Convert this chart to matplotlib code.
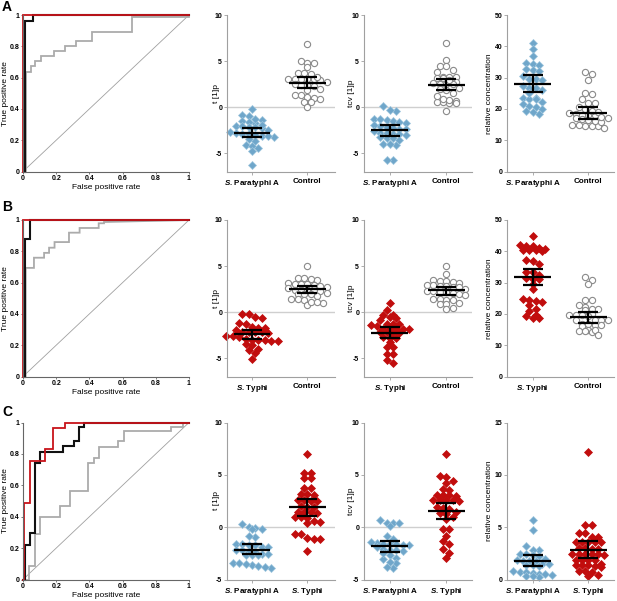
import numpy as np
import matplotlib
matplotlib.use('Agg')
import matplotlib.pyplot as plt

FAM = ['Liberation Sans', 'DejaVu Sans']
plt.rcParams['font.family'] = FAM
plt.rcParams['font.weight'] = 'bold'
plt.rcParams['mathtext.fontset'] = 'custom'
plt.rcParams['mathtext.it'] = 'Liberation Sans:italic:bold'
plt.rcParams['mathtext.rm'] = 'Liberation Sans:bold'
plt.rcParams['mathtext.bf'] = 'Liberation Sans:bold'

# ---------------- ROC data ----------------
rocA_red_fpr = [0, 0, 1]
rocA_red_tpr = [0, 1, 1]
rocA_blk_fpr = [0.012, 0.012, 0.062, 0.062, 1]
rocA_blk_tpr = [0, 0.96, 0.96, 1, 1]
rocA_gry_fpr = [0.016, 0.016, 0.046, 0.046, 0.074, 0.074, 0.11, 0.11, 0.187, 0.187, 0.253, 0.253,
                0.32, 0.32, 0.418, 0.418, 0.655, 0.655, 1, 1]
rocA_gry_tpr = [0, 0.638, 0.638, 0.674, 0.674, 0.706, 0.706, 0.738, 0.738, 0.77, 0.77, 0.804,
                0.804, 0.832, 0.832, 0.894, 0.894, 0.985, 0.985, 1]

rocB_red_fpr = [0, 0, 1]
rocB_red_tpr = [0, 1, 1]
rocB_blk_fpr = [0.012, 0.012, 0.044, 0.044, 1]
rocB_blk_tpr = [0, 0.88, 0.88, 1, 1]
rocB_gry_fpr = [0.016, 0.016, 0.066, 0.066, 0.127, 0.127, 0.157, 0.157, 0.19, 0.19, 0.277, 0.277,
                0.341, 0.341, 0.456, 0.456, 0.488, 0.488, 1]
rocB_gry_tpr = [0, 0.694, 0.694, 0.759, 0.759, 0.79, 0.79, 0.823, 0.823, 0.859, 0.859, 0.919,
                0.919, 0.949, 0.949, 0.979, 0.979, 0.987, 1]

rocC_red_fpr = [0, 0.004, 0.004, 0.04, 0.04, 0.13, 0.13, 0.18, 0.18, 0.25, 0.25, 1]
rocC_red_tpr = [0, 0, 0.487, 0.487, 0.752, 0.752, 0.829, 0.829, 0.966, 0.966, 1, 1]
rocC_blk_fpr = [0, 0.01, 0.01, 0.04, 0.04, 0.074, 0.074, 0.1, 0.1, 0.24, 0.24, 0.305, 0.305,
                0.337, 0.337, 0.365, 0.365, 1]
rocC_blk_tpr = [0, 0, 0.22, 0.22, 0.293, 0.293, 0.741, 0.741, 0.812, 0.812, 0.848, 0.848, 0.88,
                0.88, 0.972, 0.972, 1, 1]
rocC_gry_fpr = [0, 0.036, 0.036, 0.07, 0.07, 0.1, 0.1, 0.225, 0.225, 0.281, 0.281, 0.39, 0.39,
                0.428, 0.428, 0.456, 0.456, 0.572, 0.572, 0.606, 0.606, 0.894, 0.894, 0.964, 0.964, 1]
rocC_gry_tpr = [0, 0, 0.085, 0.085, 0.288, 0.288, 0.395, 0.395, 0.466, 0.466, 0.566, 0.566, 0.741,
                0.741, 0.774, 0.774, 0.844, 0.844, 0.882, 0.882, 0.947, 0.947, 0.972, 0.972, 1, 1]

roc_ticks = [0, 0.2, 0.4, 0.6, 0.8, 1]
roc_ticklabels = ['0', '0.2', '0.4', '0.6', '0.8', '1']

# ---------------- scatter data ----------------
A_t_para = [-0.2, -1.0, -0.9, -1.5, -1.7, -1.4, -1.6, -1.3, -2.3, -2.2, -2.1, -2.2, -2.1, -2.8, -2.9,
            -2.7, -2.9, -3.1, -3.0, -3.2, -3.1, -3.7, -3.5, -4.1, -4.2, -4.4, -4.8, -6.3, -2.5, -1.9]
A_t_ctrl = [6.8, 5.0, 4.8, 4.4, 4.8, 3.7, 3.6, 3.7, 3.1, 3.0, 3.0, 3.0, 2.9, 3.1, 2.5, 2.4, 2.3, 2.4,
            1.3, 1.1, 1.0, 0.9, 1.3, 0.6, 0.5, 0.0, 2.0, 1.9, 3.3, 2.7]
A_tcv_para = [0.1, -0.4, -0.3, -1.7, -1.4, -1.3, -1.5, -1.3, -1.6, -2.4, -2.2, -2.1, -2.3, -2.4, -2.8,
              -2.9, -2.8, -2.9, -3.4, -3.3, -3.4, -4.0, -4.1, -4.0, -5.8, -5.7, -1.9, -2.6, -3.0, -3.6]
A_tcv_ctrl = [7.0, 5.1, 4.5, 4.5, 3.8, 4.0, 3.3, 3.3, 3.3, 3.2, 3.2, 2.5, 2.7, 2.5, 2.6, 2.5, 2.1, 2.0,
              0.7, 0.55, 0.4, 0.55, 0.4, 0.8, 0.9, 1.2, -0.4, 1.8, 1.5, 2.9]
A_rel_para = [41.2, 39.0, 36.8, 34.4, 34.0, 34.7, 32.4, 32.8, 32.2, 29.6, 29.4, 29.2, 27.3, 26.6, 26.0,
              26.8, 23.4, 23.3, 23.5, 23.2, 22.3, 21.5, 21.0, 20.6, 19.4, 20.1, 18.4, 19.0, 30.5, 25.0]
A_rel_ctrl = [31.7, 31.0, 29.2, 25.1, 24.8, 23.2, 21.8, 21.8, 20.5, 20.1, 18.1, 18.0, 18.5, 18.2, 18.6,
              19.1, 17.1, 16.9, 17.0, 15.0, 14.6, 13.8, 14.4, 14.6, 15.0, 16.0, 15.8, 17.4, 16.4, 19.3]

B_t_typh = [-0.2, -0.2, -0.65, -0.55, -1.2, -1.35, -1.65, -1.7, -1.7, -2.0, -2.15, -2.2, -2.25, -2.2,
            -2.15, -2.6, -2.7, -2.6, -3.1, -3.05, -3.1, -3.05, -3.0, -3.6, -3.5, -4.1, -4.0, -4.5, -5.05, -2.9]
B_t_ctrl = [4.95, 3.75, 3.55, 3.5, 3.7, 2.9, 3.1, 3.2, 3.1, 3.1, 2.7, 2.3, 2.35, 2.35, 2.35, 2.3, 2.0,
            2.0, 2.0, 2.1, 1.7, 1.4, 1.4, 1.3, 0.95, 0.8, 1.1, 1.1, 2.6, 2.8]
B_tcv_typh = [1.0, 0.2, -0.35, -0.3, -0.6, -0.55, -0.9, -1.25, -1.25, -1.55, -1.45, -1.35, -1.8, -1.85,
              -1.8, -1.8, -1.8, -2.2, -2.25, -2.15, -2.25, -2.7, -2.8, -2.8, -3.25, -3.8, -3.8, -4.55,
              -4.55, -5.2, -5.55]
B_tcv_ctrl = [5.05, 4.1, 3.4, 3.3, 3.2, 3.4, 3.5, 2.75, 2.9, 2.8, 2.9, 2.7, 2.8, 2.15, 2.25, 2.15, 2.25,
              2.05, 1.45, 1.35, 1.45, 1.35, 0.9, 1.0, 0.9, 0.35, 0.45, 2.5, 2.0, 1.9]
B_rel_typh = [44.9, 41.7, 41.1, 41.7, 42.0, 40.4, 40.3, 40.1, 40.4, 40.7, 36.9, 37.2, 36.1, 33.4, 33.4,
              32.4, 31.6, 31.2, 31.0, 29.7, 28.1, 24.9, 24.0, 24.4, 23.8, 22.8, 21.7, 20.9, 19.3, 18.7,
              19.6, 18.8]
B_rel_ctrl = [31.8, 30.8, 29.5, 24.6, 24.6, 22.8, 21.7, 21.7, 22.2, 21.2, 19.6, 19.6, 20.0, 19.6, 19.2,
              18.2, 18.2, 18.2, 17.9, 16.7, 16.1, 16.4, 16.4, 16.7, 15.0, 14.5, 14.2, 14.5, 15.0, 13.1]

C_t_para = [0.3, -0.05, 0.0, -0.15, -0.2, -0.95, -0.8, -1.65, -1.75, -1.85, -1.85, -1.75, -1.65, -2.15,
            -2.4, -2.25, -2.15, -2.7, -2.6, -2.7, -2.7, -2.6, -3.45, -3.6, -3.45, -3.5, -3.75, -3.9, -3.85]
C_t_typh = [7.0, 5.2, 5.2, 4.7, 4.7, 3.75, 3.75, 3.1, 3.2, 3.2, 2.55, 2.5, 2.55, 2.5, 1.97, 2.0, 1.97,
            1.45, 1.45, 1.35, 1.45, 0.95, 0.9, 0.95, 0.6, 0.4, 0.5, -0.7, -0.65, -1.1, -1.1, -1.05, -2.25]
C_tcv_para = [0.4, 0.4, 0.15, 0.4, 0.65, -0.8, -1.1, -1.5, -1.6, -1.6, -1.7, -1.6, -1.4, -1.9, -2.15,
              -2.3, -2.15, -2.05, -2.7, -2.9, -3.0, -3.45, -3.3, -3.9, -3.85, -1.75, -2.5]
C_tcv_typh = [7.0, 4.9, 4.8, 4.2, 4.45, 3.65, 3.55, 3.0, 3.1, 3.1, 3.1, 2.5, 2.55, 2.6, 2.55, 2.55, 1.9,
              1.75, 1.85, 1.45, 1.3, 1.35, 0.95, 0.8, -0.15, -0.15, -0.8, -1.35, -1.65, -2.05, -2.5, -2.95]
C_rel_para = [5.65, 4.7, 3.2, 2.8, 2.85, 2.4, 2.3, 2.2, 2.45, 1.9, 2.0, 1.8, 1.75, 1.8, 1.35, 1.45, 1.25,
              1.45, 1.35, 0.7, 0.6, 0.55, 0.55, 0.7, 0.85, 0.3, 0.2, 0.3, 0.4]
C_rel_typh = [12.2, 5.25, 5.25, 4.45, 4.1, 4.1, 4.45, 3.6, 3.6, 3.6, 3.6, 3.6, 3.05, 3.05, 2.95, 2.95,
              2.4, 2.4, 2.45, 2.3, 2.4, 2.4, 1.9, 1.9, 1.9, 1.9, 1.35, 1.25, 1.2, 1.35, 1.35, 1.5, 0.8,
              0.7, 0.8, 0.4, 0.3]

# mean and 95% CI (mean, low, high)
A_t_stats = [(-2.85, -3.3, -2.25), (2.6, 2.1, 3.3)]
A_tcv_stats = [(-2.5, -3.1, -1.9), (2.45, 1.85, 3.0)]
A_rel_stats = [(28.0, 25.3, 30.7), (18.6, 16.7, 20.5)]
B_t_stats = [(-2.35, -2.9, -1.9), (2.5, 2.1, 2.8)]
B_tcv_stats = [(-2.25, -2.8, -1.6), (2.35, 1.8, 2.75)]
B_rel_stats = [(31.8, 29.2, 34.5), (19.0, 17.1, 20.6)]
C_t_stats = [(-2.15, -2.6, -1.65), (1.9, 1.1, 2.65)]
C_tcv_stats = [(-1.8, -2.4, -1.35), (1.5, 0.75, 2.35)]
C_rel_stats = [(1.75, 1.25, 2.3), (2.8, 2.1, 3.65)]

lab_para = '$S$. Paratyphi A'
lab_typh = '$S$. Typhi'
lab_ctrl = 'Control'

# ---------------- styling ----------------
W, H = 617, 601
fig = plt.figure(figsize=(W / 100, H / 100), dpi=100)
fig.patch.set_facecolor('white')

RED = '#c8141a'
BLUE = '#6fa6ca'
STY = {
    'para': dict(marker='D', ms=3.7, mfc=BLUE, mec='#9fc6de', mew=0.5),
    'typh': dict(marker='D', ms=3.7, mfc='#c10d0d', mec='#c10d0d', mew=0.5),
    'ctrl': dict(marker='o', ms=4.5, mfc='white', mec='#8a8a8a', mew=0.8),
}
FS_TICK = 5.0
FS_LAB = 6.0
FS_CAT = 5.8


def add_axes_px(left, right, top, bottom):
    return fig.add_axes([left / W, 1 - bottom / H, (right - left) / W, (bottom - top) / H])


rows = [(15, 171.5), (220, 376.5), (422.5, 579.5)]
letters = ['A', 'B', 'C']
letter_y = [7, 207, 412]

roc_data = [
    (rocA_gry_fpr, rocA_gry_tpr, rocA_blk_fpr, rocA_blk_tpr, rocA_red_fpr, rocA_red_tpr),
    (rocB_gry_fpr, rocB_gry_tpr, rocB_blk_fpr, rocB_blk_tpr, rocB_red_fpr, rocB_red_tpr),
    (rocC_gry_fpr, rocC_gry_tpr, rocC_blk_fpr, rocC_blk_tpr, rocC_red_fpr, rocC_red_tpr),
]

for r, (top, bot) in enumerate(rows):
    ax = add_axes_px(23, 189, top, bot)
    gf, gt, bf, bt, rf, rt = roc_data[r]
    ax.plot([0, 1], [0, 1], color='#a0a0a0', lw=0.6)
    ax.plot(gf, gt, color='#ababab', lw=1.3, clip_on=False, solid_joinstyle='miter')
    ax.plot(bf, bt, color='#111111', lw=1.5, clip_on=False, solid_joinstyle='miter')
    ax.plot(rf, rt, color=RED, lw=1.3, clip_on=False, solid_joinstyle='miter')
    ax.set_xlim(0, 1)
    ax.set_ylim(0, 1)
    ax.set_xticks(roc_ticks)
    ax.set_xticklabels(roc_ticklabels)
    ax.set_yticks(roc_ticks)
    ax.set_yticklabels(roc_ticklabels)
    for s in ['top', 'right']:
        ax.spines[s].set_visible(False)
    for s in ['left', 'bottom']:
        ax.spines[s].set_color('#666666')
        ax.spines[s].set_linewidth(0.8)
    ax.tick_params(length=1.6, width=0.6, color='#666666', labelsize=FS_TICK, pad=1.0)
    ax.set_xlabel('False positive rate', fontsize=FS_LAB, labelpad=1.5)
    ax.set_ylabel('True positive rate', fontsize=FS_LAB)
    ax.yaxis.set_label_coords((9.0 - 23) / 166, 0.5)
    fig.text(2 / W, 1 - letter_y[r] / H, letters[r], fontsize=10, fontweight='bold', va='center', ha='left')


def row_layout(vals, ppx, ppy, h, s):
    """Group values into horizontal rows (GraphPad-like scatter dot plot)."""
    vals = np.asarray(vals, dtype=float)
    order = np.argsort(-vals, kind='stable')
    groups = []
    cur = [order[0]]
    for i in order[1:]:
        if (vals[cur[0]] - vals[i]) * ppy <= h:
            cur.append(i)
        else:
            groups.append(cur)
            cur = [i]
    groups.append(cur)
    offs = np.zeros(len(vals))
    for g in groups:
        n = len(g)
        for k, i in enumerate(g):
            offs[i] = (k - (n - 1) / 2) * s / ppx
    return offs


scatter_panels = [
    (0, 227, 335, (-0.45, 1.5), (-7, 10), [-5, 0, 5, 10], 't [1]p', 220,
     [(A_t_para, 'para', lab_para), (A_t_ctrl, 'ctrl', lab_ctrl)], A_t_stats, True),
    (0, 364, 472, (-0.46, 1.46), (-7, 10), [-5, 0, 5, 10], 'tcv [1]p', 355,
     [(A_tcv_para, 'para', lab_para), (A_tcv_ctrl, 'ctrl', lab_ctrl)], A_tcv_stats, True),
    (0, 507, 614, (-0.46, 1.46), (0, 50), [0, 10, 20, 30, 40, 50], 'relative concentration', 493,
     [(A_rel_para, 'para', lab_para), (A_rel_ctrl, 'ctrl', lab_ctrl)], A_rel_stats, False),
    (1, 227, 335, (-0.45, 1.5), (-7, 10), [-5, 0, 5, 10], 't [1]p', 220,
     [(B_t_typh, 'typh', lab_typh), (B_t_ctrl, 'ctrl', lab_ctrl)], B_t_stats, True),
    (1, 364, 472, (-0.46, 1.46), (-7, 10), [-5, 0, 5, 10], 'tcv [1]p', 355,
     [(B_tcv_typh, 'typh', lab_typh), (B_tcv_ctrl, 'ctrl', lab_ctrl)], B_tcv_stats, True),
    (1, 507, 614, (-0.46, 1.46), (0, 50), [0, 10, 20, 30, 40, 50], 'relative concentration', 493,
     [(B_rel_typh, 'typh', lab_typh), (B_rel_ctrl, 'ctrl', lab_ctrl)], B_rel_stats, False),
    (2, 227, 335, (-0.45, 1.5), (-5, 10), [-5, 0, 5, 10], 't [1]p', 220,
     [(C_t_para, 'para', lab_para), (C_t_typh, 'typh', lab_typh)], C_t_stats, True),
    (2, 364, 472, (-0.46, 1.46), (-5, 10), [-5, 0, 5, 10], 'tcv [1]p', 355,
     [(C_tcv_para, 'para', lab_para), (C_tcv_typh, 'typh', lab_typh)], C_tcv_stats, True),
    (2, 507, 614, (-0.46, 1.46), (0, 15), [0, 5, 10, 15], 'relative concentration', 493,
     [(C_rel_para, 'para', lab_para), (C_rel_typh, 'typh', lab_typh)], C_rel_stats, False),
]

for (r, left, right, xlim, ylim, yticks, ylabel, lab_x, groups, stats, zero) in scatter_panels:
    top, bot = rows[r]
    ax = add_axes_px(left, right, top, bot)
    ppx = (right - left) / (xlim[1] - xlim[0])
    ppy = (bot - top) / (ylim[1] - ylim[0])
    if zero:
        ax.axhline(0, color='#cfcfcf', lw=1.0, zorder=0)
    for gi, (vals, kind, lab) in enumerate(groups):
        offs = row_layout(vals, ppx, ppy, 4.8, 6.4)
        ax.plot(gi + offs, vals, ls='none', zorder=2, clip_on=False, **STY[kind])
        m, lo, hi = stats[gi]
        ax.plot([gi - 0.33, gi + 0.33], [m, m], color='black', lw=1.6, zorder=3, solid_capstyle='butt')
        ax.plot([gi - 0.18, gi + 0.18], [lo, lo], color='black', lw=1.6, zorder=3, solid_capstyle='butt')
        ax.plot([gi - 0.18, gi + 0.18], [hi, hi], color='black', lw=1.6, zorder=3, solid_capstyle='butt')
        ax.plot([gi, gi], [lo, hi], color='black', lw=1.6, zorder=3, solid_capstyle='butt')
    ax.set_xlim(*xlim)
    ax.set_ylim(*ylim)
    ax.set_yticks(yticks)
    ax.set_yticklabels([str(v) for v in yticks])
    ax.set_xticks([0, 1])
    ax.set_xticklabels([g[2] for g in groups])
    for s in ['top', 'right']:
        ax.spines[s].set_visible(False)
    for s in ['left', 'bottom']:
        ax.spines[s].set_color('#a0a0a0')
        ax.spines[s].set_linewidth(0.8)
    ax.tick_params(axis='y', length=2, width=0.6, color='#a0a0a0', labelsize=FS_TICK, pad=1.5)
    ax.tick_params(axis='x', length=2.5, width=0.6, color='#a0a0a0', labelsize=FS_CAT, pad=2.5)
    ax.set_ylabel(ylabel, fontsize=FS_LAB)
    ax.yaxis.set_label_coords((lab_x - left) / (right - left), 0.5)

fig.savefig('out.png', dpi=100, facecolor='white')
